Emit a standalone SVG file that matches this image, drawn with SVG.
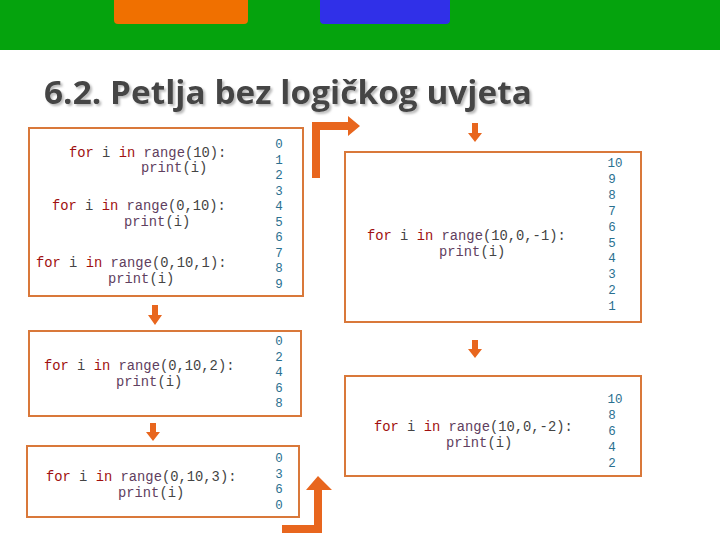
<svg xmlns="http://www.w3.org/2000/svg" width="720" height="540" viewBox="0 0 720 540">
<defs><filter id="sh" x="-5%" y="-20%" width="110%" height="150%"><feDropShadow dx="2" dy="2" stdDeviation="0.8" flood-color="#bbb"/></filter></defs>
<style>
.box{fill:#fff;stroke:#d9783a;stroke-width:2}
.c{font-family:"Liberation Mono",monospace;font-size:13.8px;fill:#444}
.k{fill:#a01010}.f{fill:#604060}
.n{font-family:"Liberation Mono",monospace;font-size:12.5px;fill:#2a7090;text-anchor:middle}
.a{fill:#e8661e}
</style>
<rect x="0" y="0" width="720" height="50" fill="#05a30d"/>
<rect x="114" y="-6" width="134" height="30" rx="4" fill="#f07000"/>
<rect x="320" y="-6" width="130" height="30" rx="4" fill="#3030e8"/>
<text x="44" y="104" font-family="Open Sans,sans-serif" font-weight="bold" font-size="32" fill="#444" textLength="488" lengthAdjust="spacingAndGlyphs" filter="url(#sh)">6.2. Petlja bez logičkog uvjeta</text>
<g id="box1"><rect class="box" x="29" y="128" width="274" height="168"/>
<text class="c" x="69" y="157"><tspan class="k">for</tspan> i <tspan class="k">in</tspan> <tspan class="f">range</tspan>(10):</text>
<text class="c" x="141" y="172"><tspan class="f">print</tspan>(i)</text>
<text class="c" x="52" y="210"><tspan class="k">for</tspan> i <tspan class="k">in</tspan> <tspan class="f">range</tspan>(0,10):</text>
<text class="c" x="124" y="226"><tspan class="f">print</tspan>(i)</text>
<text class="c" x="36" y="267"><tspan class="k">for</tspan> i <tspan class="k">in</tspan> <tspan class="f">range</tspan>(0,10,1):</text>
<text class="c" x="108" y="283"><tspan class="f">print</tspan>(i)</text>
<text class="n" x="279" y="148">0<tspan x="279" dy="15.5">1</tspan><tspan x="279" dy="15.5">2</tspan><tspan x="279" dy="15.5">3</tspan><tspan x="279" dy="15.5">4</tspan><tspan x="279" dy="15.5">5</tspan><tspan x="279" dy="15.5">6</tspan><tspan x="279" dy="15.5">7</tspan><tspan x="279" dy="15.5">8</tspan><tspan x="279" dy="15.5">9</tspan></text></g>
<g id="box2"><rect class="box" x="29" y="331" width="272" height="85"/>
<text class="c" x="44" y="370"><tspan class="k">for</tspan> i <tspan class="k">in</tspan> <tspan class="f">range</tspan>(0,10,2):</text>
<text class="c" x="116" y="386"><tspan class="f">print</tspan>(i)</text>
<text class="n" x="279" y="345">0<tspan x="279" dy="15.5">2</tspan><tspan x="279" dy="15.5">4</tspan><tspan x="279" dy="15.5">6</tspan><tspan x="279" dy="15.5">8</tspan></text></g>
<g id="box3"><rect class="box" x="27" y="446" width="272" height="71"/>
<text class="c" x="46" y="481"><tspan class="k">for</tspan> i <tspan class="k">in</tspan> <tspan class="f">range</tspan>(0,10,3):</text>
<text class="c" x="118" y="497"><tspan class="f">print</tspan>(i)</text>
<text class="n" x="279" y="462">0<tspan x="279" dy="15.5">3</tspan><tspan x="279" dy="15.5">6</tspan><tspan x="279" dy="15.5">0</tspan></text></g>
<g id="box4"><rect class="box" x="345" y="152" width="296" height="170"/>
<text class="c" x="367" y="240"><tspan class="k">for</tspan> i <tspan class="k">in</tspan> <tspan class="f">range</tspan>(10,0,-1):</text>
<text class="c" x="439" y="256"><tspan class="f">print</tspan>(i)</text>
<text class="n" x="615" y="167">10<tspan x="612" dy="15.9">9</tspan><tspan x="612" dy="15.9">8</tspan><tspan x="612" dy="15.9">7</tspan><tspan x="612" dy="15.9">6</tspan><tspan x="612" dy="15.9">5</tspan><tspan x="612" dy="15.9">4</tspan><tspan x="612" dy="15.9">3</tspan><tspan x="612" dy="15.9">2</tspan><tspan x="612" dy="15.9">1</tspan></text></g>
<g id="box5"><rect class="box" x="345" y="376" width="296" height="100"/>
<text class="c" x="374" y="431"><tspan class="k">for</tspan> i <tspan class="k">in</tspan> <tspan class="f">range</tspan>(10,0,-2):</text>
<text class="c" x="446" y="447"><tspan class="f">print</tspan>(i)</text>
<text class="n" x="615" y="403">10<tspan x="612" dy="15.9">8</tspan><tspan x="612" dy="15.9">6</tspan><tspan x="612" dy="15.9">4</tspan><tspan x="612" dy="15.9">2</tspan></text></g>
<g id="connectors">
<polygon class="a" points="152,305 158,305 158,315 162,315 155,325 148,315 152,315"/>
<polygon class="a" points="150,423 156,423 156,432 160,432 153,441 146,432 150,432"/>
<polygon class="a" points="472,123 478,123 478,133 482,133 475,142 468,133 472,133"/>
<polygon class="a" points="472,340 478,340 478,349 482,349 475,358 468,349 472,349"/>
<polygon class="a" points="312,178 320,178 320,130 348,130 348,136 360,126 348,116 348,122 312,122"/>
<polygon class="a" points="282,533 322,533 322,490 332,490 318,476 306,490 314,490 314,525 282,525"/>
</g>
</svg>
